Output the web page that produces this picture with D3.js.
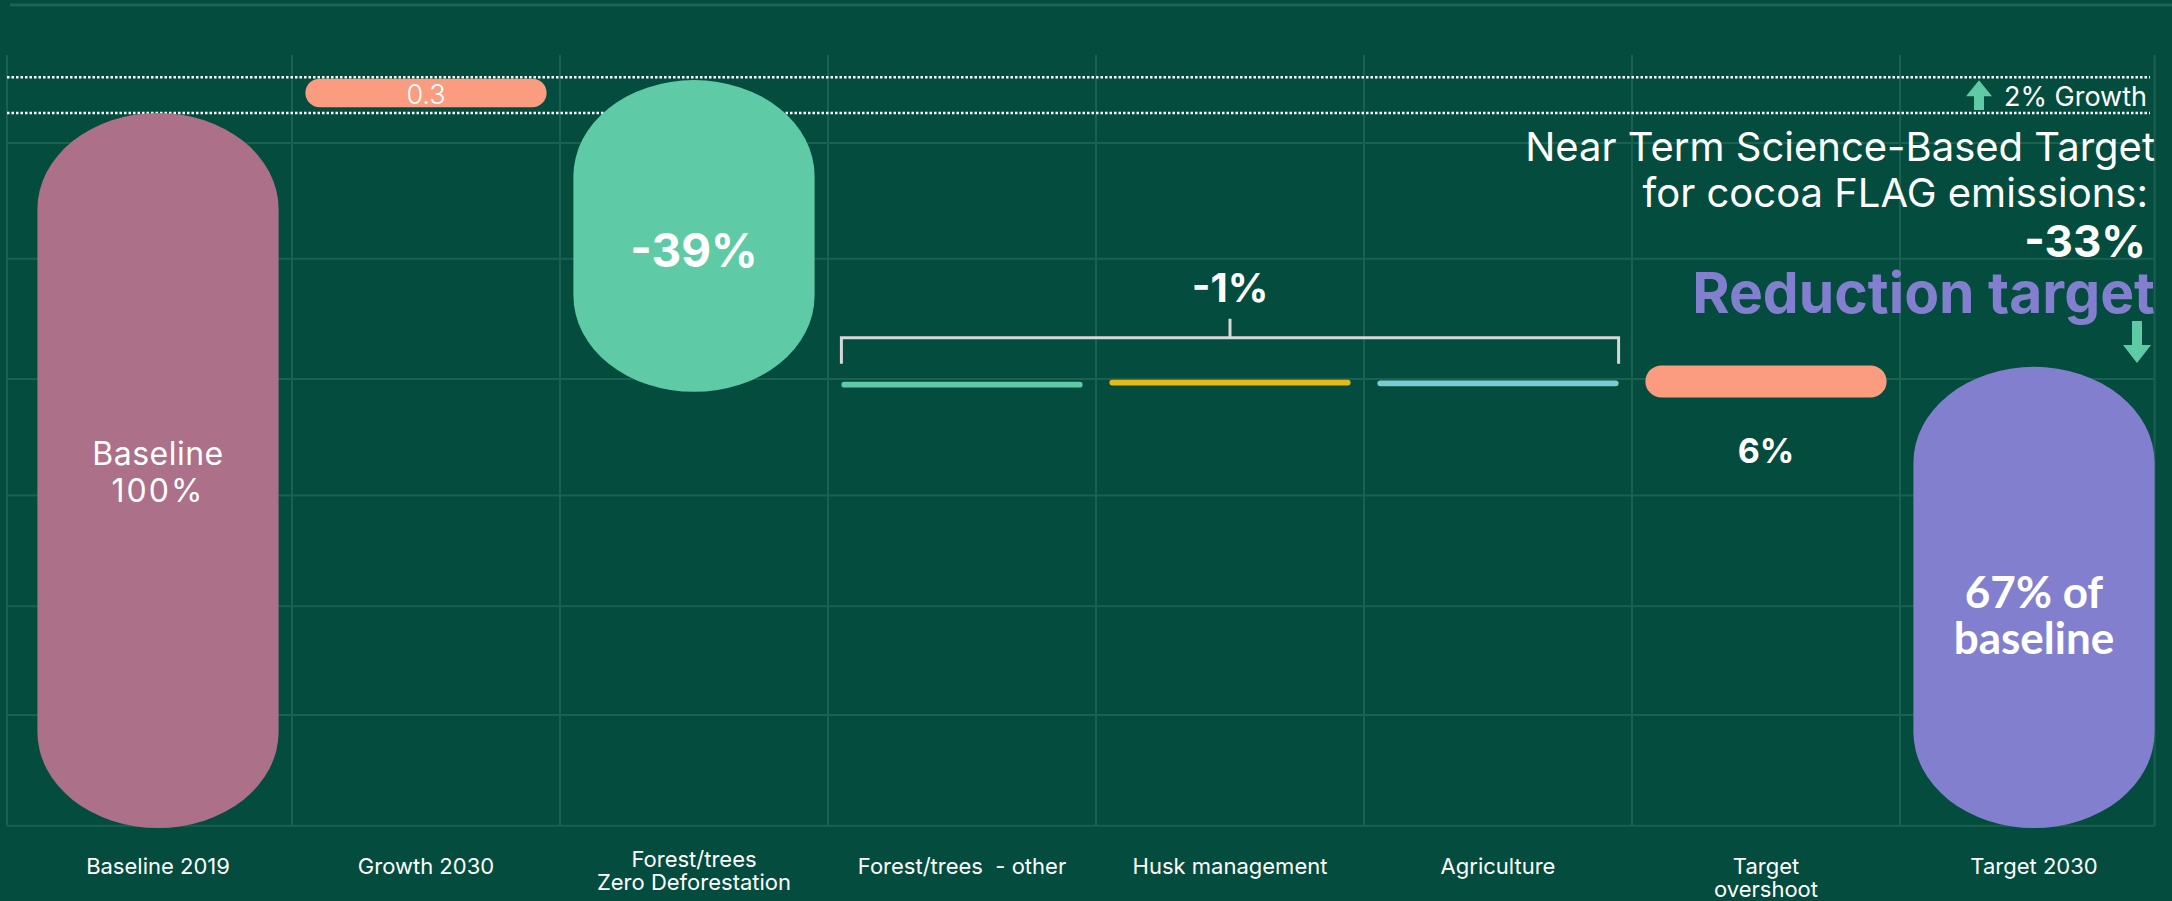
<!DOCTYPE html>
<html>
<head>
<meta charset="utf-8">
<script src="https://cdn.jsdelivr.net/npm/d3@7"></script>
<style>
  html, body { margin: 0; padding: 0; background: #044c3e; }
  svg { display: block; }
  text { font-family: Inter, Lato, "Open Sans", sans-serif; fill: #ffffff; white-space: pre; }
</style>
</head>
<body>
<svg id="chart" width="2172" height="901"></svg>
<script>
// ---------- data ----------
const categories = ["Baseline 2019", "Growth 2030", "Forest/trees Zero Deforestation", "Forest/trees - other",
                    "Husk management", "Agriculture", "Target overshoot", "Target 2030"];
const categoryLabelLines = [["Baseline 2019"], ["Growth 2030"], ["Forest/trees", "Zero Deforestation"],
                    ["Forest/trees  - other"], ["Husk management"], ["Agriculture"], ["Target", "overshoot"], ["Target 2030"]];
// bar extents, in % of baseline
const barStart = [0, 100.8, 61, 61.6, 61.9, 61.8, 60.2, 0];
const barEnd   = [100, 104.8, 104.6, 62.4, 62.7, 62.6, 64.7, 64.5];
const barColors = ["#ac7088", "#fb9b80", "#5ecba6", "#5ecba6", "#e6b91a", "#7ccbd2", "#fb9b80", "#837fcf"];
// labels
const barInnerLabels = [["Baseline", "100%"], ["0.3"], ["-39%"], [], [], [], [], ["67% of", "baseline"]];
const groupLabel = "-1%";
const overshootLabel = "6%";
const growthNote = "2% Growth";
const targetTitle = ["Near Term Science-Based Target", "for cocoa FLAG emissions:"];
const targetValue = "-33%";
const targetName = "Reduction target";
const guideLevels = [100, 105];
const gridTicks = [0.3, 15.8, 31, 46.5, 62.8, 79.6, 95.8];

// ---------- scales ----------
const svg = d3.select("#chart");
const W = 2172, H = 901;
const y = d3.scaleLinear().domain([0, 100]).range([828, 113]);
const x = d3.scaleBand().domain(categories).range([24, 2168]).paddingInner(0.1).paddingOuter(0.05);
const bw = x.bandwidth();
const step = x.step();
const gap = step - bw;

svg.append("rect").attr("width", W).attr("height", H).attr("fill", "#034c3e");

// top rule
svg.append("line").attr("x1", 10).attr("x2", W).attr("y1", 5).attr("y2", 5)
  .attr("stroke", "#1d6455").attr("stroke-width", 3);

// grid
const gridColor = "#1b6152";
const gx0 = 7, gx1 = x(categories[categories.length - 1]) + bw;
svg.append("g").selectAll("line").data(gridTicks).join("line")
  .attr("x1", gx0).attr("x2", gx1).attr("y1", d => y(d)).attr("y2", d => y(d))
  .attr("stroke", gridColor).attr("stroke-width", 2);
const vLines = [gx0].concat(categories.slice(1).map(c => x(c) - gap / 2)).concat([gx1]);
svg.append("g").selectAll("line").data(vLines).join("line")
  .attr("x1", d => d).attr("x2", d => d)
  .attr("y1", 55).attr("y2", y(gridTicks[0]))
  .attr("stroke", gridColor).attr("stroke-width", 2);

// dotted guide lines
svg.append("g").selectAll("line").data(guideLevels).join("line")
  .attr("x1", 7).attr("x2", 2150).attr("y1", d => y(d)).attr("y2", d => y(d))
  .attr("stroke", "#ffffff").attr("stroke-width", 2.5).attr("stroke-dasharray", "2.5,2");

// bars
const bars = categories.map((c, i) => ({ c, i, s: barStart[i], e: barEnd[i], color: barColors[i] }));
svg.append("g").selectAll("rect").data(bars).join("rect")
  .attr("x", d => x(d.c))
  .attr("width", bw)
  .attr("y", d => y(d.e))
  .attr("height", d => y(d.s) - y(d.e))
  .attr("rx", d => { const h = y(d.s) - y(d.e); return h >= bw ? bw / 2 : h / 2; })
  .attr("ry", d => { const h = y(d.s) - y(d.e); return h >= bw ? Math.min(h / 2, 96) : h / 2; })
  .attr("fill", d => d.color);

// inner labels (baseline y of each line, font size, weight)
const innerStyle = [
  { size: 32, weight: 400, ys: [465, 502], ls: [0.5, 2], font: "Inter" },
  { size: 27, weight: 300, ys: [104], ls: [0], font: "Inter" },
  { size: 46, weight: 700, ys: [267], ls: [0], font: "Inter" },
  null, null, null, null,
  { size: 44, weight: 700, ys: [608, 654], ls: [0, 0], font: "Lato" }
];
barInnerLabels.forEach((lines, i) => {
  if (!lines.length) return;
  const st = innerStyle[i];
  const cx = x(categories[i]) + bw / 2;
  const t = svg.append("text").attr("text-anchor", "middle")
    .style("font-family", st.font)
    .attr("font-size", st.size).attr("font-weight", st.weight);
  lines.forEach((ln, k) => {
    t.append("tspan").attr("x", cx).attr("y", st.ys[k]).attr("letter-spacing", st.ls[k]).text(ln);
  });
});

// bracket over the three small reductions
const bx0 = x(categories[3]), bx1 = x(categories[5]) + bw;
const bLevel = y(barEnd[4]) - 42;
svg.append("path")
  .attr("d", `M${bx0},${bLevel + 26}V${bLevel}H${bx1}V${bLevel + 26}M${(bx0 + bx1) / 2},${bLevel}V${bLevel - 19}`)
  .attr("fill", "none").attr("stroke", "#d8d8d8").attr("stroke-width", 3);
svg.append("text").attr("x", (bx0 + bx1) / 2).attr("y", 302)
  .attr("text-anchor", "middle").attr("font-size", 40).attr("font-weight", 700).text(groupLabel);

// overshoot label
svg.append("text").attr("x", x(categories[6]) + bw / 2).attr("y", 463)
  .attr("text-anchor", "middle").attr("font-size", 34).attr("font-weight", 700).text(overshootLabel);

// category labels
categoryLabelLines.forEach((lines, i) => {
  const cx = x(categories[i]) + bw / 2;
  const startY = i === 2 ? 867 : 874;
  const t = svg.append("text").attr("text-anchor", "middle").attr("font-size", 22);
  lines.forEach((ln, k) => {
    t.append("tspan").attr("x", cx).attr("y", startY + k * 23).text(ln);
  });
});

// growth note with arrow
const mint = "#5ecba6";
const ax = 1979, aTop = y(guideLevels[1]) + 3, aBot = y(guideLevels[0]) - 3;
svg.append("path")
  .attr("d", `M${ax},${aTop}L${ax + 13},${aTop + 16}H${ax + 5}V${aBot}H${ax - 5}V${aTop + 16}H${ax - 13}Z`)
  .attr("fill", mint);
svg.append("text").attr("x", 2147).attr("y", 106)
  .attr("text-anchor", "end").attr("font-size", 27).text(growthNote);

// target annotation
svg.append("text").attr("x", 2155).attr("y", 161).attr("text-anchor", "end")
  .attr("font-size", 40).text(targetTitle[0]);
svg.append("text").attr("x", 2148).attr("y", 207).attr("text-anchor", "end")
  .attr("font-size", 40).text(targetTitle[1]);
svg.append("text").attr("x", 2146).attr("y", 257).attr("text-anchor", "end")
  .attr("font-size", 44).attr("font-weight", 700).text(targetValue);
svg.append("text").attr("x", 2155).attr("y", 313).attr("text-anchor", "end")
  .attr("font-size", 57).attr("font-weight", 700).style("fill", "#837fcf").text(targetName);

// down arrow
const dx = 2137, dTop = 321, dBot = 363;
svg.append("path")
  .attr("d", `M${dx - 5},${dTop}H${dx + 5}V${dBot - 18}H${dx + 14}L${dx},${dBot}L${dx - 14},${dBot - 18}H${dx - 5}Z`)
  .attr("fill", mint);
</script>
</body>
</html>
